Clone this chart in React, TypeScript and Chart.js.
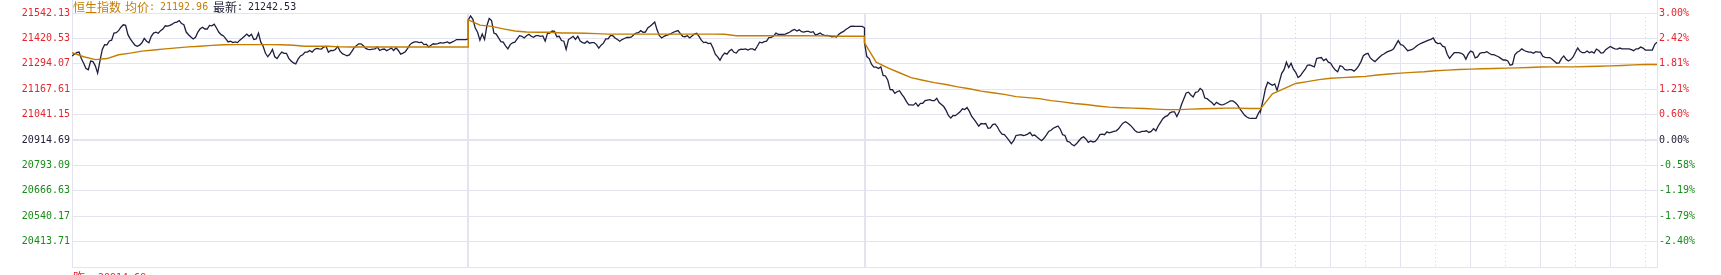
import React, { useEffect, useRef } from "react";
import { Chart, registerables } from "chart.js";

Chart.register(...registerables);

// ---- data (HSI intraday, 4 trading days, 340 minutes each) ----
const MINUTES_PER_DAY = 340;
const PRICE_STEP = 2; // minutes between price samples
const AVG_STEP = 10; // minutes between average samples

const day1Prices = [
  21330, 21338, 21346, 21349, 21317, 21294, 21268, 21262, 21305, 21302,
  21281, 21245, 21305, 21362, 21386, 21385, 21404, 21408, 21443, 21445,
  21455, 21472, 21484, 21481, 21435, 21414, 21398, 21383, 21378, 21383,
  21395, 21417, 21403, 21395, 21427, 21443, 21447, 21442, 21455, 21463,
  21479, 21477, 21481, 21487, 21495, 21497, 21505, 21490, 21484, 21448,
  21435, 21424, 21414, 21422, 21448, 21464, 21472, 21463, 21463, 21481,
  21479, 21487, 21468, 21447, 21435, 21429, 21414, 21399, 21403, 21396,
  21399, 21396, 21408, 21417, 21427, 21438, 21427, 21437, 21411, 21414,
  21443, 21398, 21378, 21343, 21326, 21341, 21362, 21326, 21317, 21335,
  21349, 21343, 21343, 21318, 21305, 21296, 21291, 21314, 21330, 21336,
  21349, 21349, 21357, 21349, 21362, 21367, 21365, 21364, 21374, 21378,
  21348, 21357, 21356, 21362, 21377, 21354, 21341, 21336, 21331, 21335,
  21351, 21370, 21380, 21390, 21390, 21380, 21367, 21362, 21361, 21364,
  21365, 21374, 21357, 21362, 21364, 21356, 21362, 21369, 21357, 21370,
  21357, 21339, 21344, 21351, 21367, 21386, 21395, 21399, 21399, 21396,
  21398, 21386, 21388, 21374, 21383, 21390, 21388, 21391, 21396, 21393,
  21396, 21399, 21393, 21398, 21404, 21411, 21411, 21411, 21411, 21411,
  21414,
];

const day2Prices = [
  21508, 21528, 21511, 21468, 21447, 21408, 21438, 21411, 21479, 21515,
  21505, 21443, 21438, 21419, 21401, 21398, 21380, 21365, 21386, 21395,
  21398, 21414, 21430, 21427, 21419, 21430, 21437, 21427, 21422, 21430,
  21430, 21427, 21429, 21403, 21442, 21443, 21453, 21451, 21425, 21427,
  21406, 21403, 21362, 21411, 21419, 21427, 21412, 21427, 21404, 21396,
  21393, 21403, 21393, 21396, 21396, 21386, 21369, 21383, 21393, 21414,
  21414, 21430, 21430, 21419, 21411, 21403, 21411, 21416, 21422, 21421,
  21424, 21435, 21443, 21445, 21455, 21447, 21448, 21468, 21477, 21487,
  21498, 21459, 21430, 21419, 21427, 21432, 21435, 21440, 21447, 21451,
  21455, 21440, 21427, 21425, 21430, 21419, 21429, 21438, 21442, 21427,
  21408, 21396, 21398, 21391, 21393, 21369, 21339, 21325, 21309, 21330,
  21344, 21339, 21354, 21362, 21348, 21344, 21359, 21364, 21362, 21365,
  21359, 21365, 21365, 21359, 21378, 21398, 21395, 21401, 21403, 21421,
  21422, 21429, 21443, 21437, 21437, 21437, 21438, 21443, 21448, 21456,
  21461, 21453, 21459, 21450, 21448, 21451, 21451, 21447, 21450, 21433,
  21438, 21443, 21435, 21430, 21432, 21429, 21425, 21427, 21424, 21437,
  21445, 21451, 21461, 21468, 21476, 21477, 21476, 21476, 21476, 21476,
  21469,
];

const day3Prices = [
  21395, 21327, 21317, 21289, 21275, 21275, 21268, 21276, 21234, 21231,
  21210, 21164, 21163, 21145, 21153, 21158, 21140, 21125, 21104, 21088,
  21088, 21087, 21098, 21082, 21096, 21096, 21109, 21112, 21114, 21109,
  21109, 21121, 21100, 21090, 21080, 21061, 21036, 21023, 21036, 21035,
  21044, 21054, 21069, 21065, 21075, 21056, 21031, 21017, 21001, 20983,
  20996, 20994, 20996, 20973, 20975, 20991, 20994, 20980, 20958, 20944,
  20941, 20928, 20913, 20897, 20911, 20937, 20939, 20941, 20937, 20939,
  20944, 20952, 20936, 20939, 20929, 20920, 20911, 20923, 20939, 20957,
  20963, 20973, 20978, 20984, 20968, 20941, 20937, 20908, 20905, 20892,
  20886, 20897, 20911, 20924, 20931, 20920, 20903, 20910, 20905, 20908,
  20921, 20941, 20944, 20941, 20955, 20950, 20954, 20957, 20960, 20970,
  20986, 20999, 21005, 20997, 20988, 20976, 20962, 20954, 20952, 20957,
  20957, 20960, 20952, 20957, 20971, 20960, 20984, 21002, 21020, 21030,
  21035, 21049, 21054, 21054, 21031, 21054, 21090, 21119, 21147, 21151,
  21137, 21127, 21150, 21153, 21169, 21160, 21122, 21119, 21109, 21100,
  21087, 21101, 21093, 21088, 21090, 21095, 21101, 21108, 21108, 21100,
  21088, 21070, 21054, 21038, 21028, 21023, 21022, 21022, 21022, 21046,
  21065,
];

const day4Prices = [
  21062, 21111, 21168, 21200, 21192, 21185, 21192, 21160, 21203, 21244,
  21262, 21299, 21273, 21294, 21265, 21249, 21223, 21232, 21249, 21263,
  21284, 21286, 21281, 21276, 21317, 21320, 21322, 21307, 21315, 21299,
  21294, 21275, 21260, 21252, 21281, 21278, 21263, 21260, 21262, 21262,
  21255, 21265, 21281, 21302, 21331, 21339, 21343, 21320, 21310, 21302,
  21314, 21325, 21335, 21341, 21349, 21354, 21357, 21365, 21386, 21406,
  21386, 21383, 21370, 21356, 21359, 21362, 21370, 21380, 21388, 21393,
  21398, 21403, 21408, 21412, 21419, 21398, 21391, 21393, 21378, 21374,
  21338, 21318, 21333, 21346, 21346, 21346, 21343, 21336, 21314, 21339,
  21354, 21349, 21320, 21325, 21343, 21346, 21346, 21351, 21343, 21336,
  21336, 21331, 21326, 21318, 21310, 21310, 21305, 21284, 21288, 21335,
  21348, 21354, 21365, 21357, 21352, 21349, 21349, 21343, 21351, 21349,
  21349, 21328, 21323, 21322, 21322, 21314, 21304, 21294, 21296, 21317,
  21330, 21314, 21305, 21312, 21325, 21348, 21369, 21353, 21346, 21346,
  21354, 21346, 21351, 21344, 21364, 21357, 21344, 21346, 21361, 21369,
  21377, 21370, 21365, 21364, 21369, 21365, 21365, 21365, 21365, 21361,
  21356, 21365, 21365, 21374, 21369, 21359, 21359, 21359, 21359, 21386,
  21398,
];

const day1Avg = [
  21346, 21326, 21312, 21317, 21336, 21344, 21354, 21359, 21365, 21370,
  21375, 21378, 21382, 21385, 21386, 21386, 21386, 21386, 21385, 21383,
  21378, 21378, 21378, 21375, 21374, 21374, 21374, 21374, 21374, 21374,
  21374, 21374, 21374, 21374, 21374,
];
const day2Avg = [
  21508, 21482, 21476, 21464, 21453, 21448, 21447, 21447, 21443, 21443,
  21442, 21440, 21438, 21438, 21438, 21438, 21438, 21438, 21438, 21438,
  21438, 21438, 21437, 21430, 21430, 21430, 21430, 21430, 21430, 21430,
  21429, 21429, 21427, 21427, 21427,
];
const day3Avg = [
  21395, 21299, 21271, 21247, 21223, 21210, 21198, 21189, 21177, 21168,
  21156, 21148, 21140, 21129, 21124, 21119, 21109, 21103, 21095, 21090,
  21083, 21077, 21074, 21072, 21070, 21067, 21065, 21065, 21067, 21069,
  21070, 21072, 21072, 21070, 21070,
];
const day4Avg = [
  21070, 21143, 21169, 21194, 21203, 21213, 21220, 21223, 21226, 21229,
  21236, 21241, 21245, 21249, 21252, 21257, 21260, 21263, 21265, 21267,
  21268, 21270, 21271, 21273, 21275, 21276, 21276, 21276, 21278, 21279,
  21281, 21283, 21286, 21288, 21288,
];

const Y_MAX = 21542.13;
const Y_MIN = 20287.25;
const leftTickLabels = [
  "21542.13", "21420.53", "21294.07", "21167.61", "21041.15",
  "20914.69", "20793.09", "20666.63", "20540.17", "20413.71", "",
];
const rightTickLabels = [
  "3.00%", "2.42%", "1.81%", "1.21%", "0.60%",
  "0.00%", "-0.58%", "-1.19%", "-1.79%", "-2.40%", "",
];
// vertical grid: day boundaries, plus half-hour marks on the last day
const xGridMinutes = [
  0, 340, 680, 1020, 1050, 1080, 1110, 1140, 1170, 1200, 1230, 1260, 1290,
  1320, 1350, 1360,
];

const titleName = "恒生指数";
const titleAvgLabel = "均价";
const titleAvgValue = "21192.96";
const titleLastLabel = "最新";
const titleLastValue = "21242.53";
const prevLabel = "昨";
const prevValue = "20914.69";

// ---- styles ----
const GRID = "#e4e4f0";
const DOT = "#d4d4de";
const NAVY = "#1e1e3e";
const ORANGE = "#c47d00";
const RED = "#e5262f";
const GREEN = "#178c17";
const DARK = "#22223a";
const MONO = "'DejaVu Sans Mono', monospace";
const CJK = "'Noto Sans CJK SC', sans-serif";

const labelColor = (i: number) => (i < 5 ? RED : i === 5 ? DARK : GREEN);

export default function App() {
  const ref = useRef<HTMLCanvasElement>(null);

  useEffect(() => {
    const canvas = ref.current;
    if (!canvas) return;
    const dayPrices = [day1Prices, day2Prices, day3Prices, day4Prices];
    const dayAvgs = [day1Avg, day2Avg, day3Avg, day4Avg];
    const priceData = dayPrices.flatMap((arr, d) =>
      arr.map((v, k) => ({ x: d * MINUTES_PER_DAY + k * PRICE_STEP, y: v }))
    );
    const avgData = dayAvgs.flatMap((arr, d) =>
      arr.map((v, k) => ({ x: d * MINUTES_PER_DAY + k * AVG_STEP, y: v }))
    );
    const step = (Y_MAX - Y_MIN) / 10;
    const yTicks = leftTickLabels.map((_, i) => ({ value: Y_MAX - i * step }));
    const isHalfHour = (v: number) => v > 1020 && v < 1360 && (v - 1020) % 60 === 30;
    const isDayEdge = (v: number) => v > 0 && v < 1360 && v % MINUTES_PER_DAY === 0;

    const edgeLines = {
      id: "edgeLines",
      afterDraw(chart: any) {
        const { ctx, chartArea } = chart;
        ctx.save();
        ctx.fillStyle = GRID;
        ctx.fillRect(Math.round(chartArea.left), 0, 1, chartArea.top);
        ctx.fillRect(Math.round(chartArea.right), 0, 1, chartArea.top);
        ctx.restore();
      },
    };

    const chart = new Chart(canvas, {
      type: "line",
      data: {
        datasets: [
          {
            label: "均价",
            data: avgData,
            borderColor: ORANGE,
            borderWidth: 1.4,
            pointRadius: 0,
            tension: 0,
          },
          {
            label: "恒生指数",
            data: priceData,
            borderColor: NAVY,
            borderWidth: 1.3,
            pointRadius: 0,
            tension: 0,
          },
        ],
      },
      options: {
        responsive: false,
        maintainAspectRatio: false,
        devicePixelRatio: 1,
        animation: false,
        events: [],
        layout: { padding: { top: 13, bottom: 4, left: 0, right: 0 } },
        plugins: { legend: { display: false }, tooltip: { enabled: false } },
        scales: {
          x: {
            type: "linear",
            min: 0,
            max: 1360,
            afterBuildTicks: (s: any) => {
              s.ticks = xGridMinutes.map((v) => ({ value: v }));
            },
            afterFit: (s: any) => {
              s.height = 0;
            },
            ticks: { display: false },
            grid: {
              drawTicks: false,
              color: (c: any) => (c.tick && isHalfHour(c.tick.value) ? DOT : GRID),
              lineWidth: (c: any) => (c.tick && isDayEdge(c.tick.value) ? 2 : 1),
            },
            border: {
              display: true,
              color: GRID,
              width: 1,
              dash: (c: any) => (c.tick && isHalfHour(c.tick.value) ? [1, 3] : []),
            },
          },
          y: {
            type: "linear",
            position: "left",
            min: Y_MIN,
            max: Y_MAX,
            afterBuildTicks: (s: any) => {
              s.ticks = yTicks.map((t) => ({ ...t }));
            },
            afterFit: (s: any) => {
              s.width = 72;
            },
            ticks: {
              autoSkip: false,
              padding: 2,
              font: { family: MONO, size: 10 },
              color: (c: any) => labelColor(c.index),
              callback: (_v: any, i: number) => leftTickLabels[i],
            },
            grid: {
              drawTicks: false,
              color: GRID,
              lineWidth: (c: any) => (c.index === 5 ? 2 : 1),
            },
            border: { display: true, color: GRID, width: 1 },
          },
          y2: {
            type: "linear",
            position: "right",
            min: Y_MIN,
            max: Y_MAX,
            afterBuildTicks: (s: any) => {
              s.ticks = yTicks.map((t) => ({ ...t }));
            },
            afterFit: (s: any) => {
              s.width = 64;
            },
            ticks: {
              autoSkip: false,
              padding: 2,
              font: { family: MONO, size: 10 },
              color: (c: any) => labelColor(c.index),
              callback: (_v: any, i: number) => rightTickLabels[i],
            },
            grid: { display: false, drawTicks: false },
            border: { display: true, color: GRID, width: 1 },
          },
        },
      },
      plugins: [edgeLines],
    } as any);
    return () => chart.destroy();
  }, []);

  const cjk = (left: number, top: number, color: string): React.CSSProperties => ({
    position: "absolute",
    left,
    top,
    fontFamily: CJK,
    fontSize: 12,
    lineHeight: "12px",
    color,
    whiteSpace: "pre",
  });
  const mono = (left: number, top: number, color: string): React.CSSProperties => ({
    position: "absolute",
    left,
    top,
    fontFamily: MONO,
    fontSize: 10,
    lineHeight: "10px",
    color,
    whiteSpace: "pre",
  });

  return (
    <div
      style={{
        position: "fixed",
        left: 0,
        top: 0,
        width: 1721,
        height: 275,
        overflow: "hidden",
        background: "#ffffff",
      }}
    >
      <canvas
        ref={ref}
        width={1721}
        height={275}
        style={{ position: "absolute", left: 0, top: 0, width: 1721, height: 275 }}
      />
      <span style={cjk(73, 0.5, ORANGE)}>{titleName}</span>
      <span style={cjk(125, 0.5, ORANGE)}>{titleAvgLabel}</span>
      <span style={mono(149, 1.5, ORANGE)}>:</span>
      <span style={mono(160, 1.5, ORANGE)}>{titleAvgValue}</span>
      <span style={cjk(213, 0.5, DARK)}>{titleLastLabel}</span>
      <span style={mono(237, 1.5, DARK)}>:</span>
      <span style={mono(248, 1.5, DARK)}>{titleLastValue}</span>
      <span style={cjk(73, 270.6, RED)}>{prevLabel}</span>
      <span style={mono(85, 273, RED)}>:</span>
      <span style={mono(98, 273, RED)}>{prevValue}</span>
    </div>
  );
}
